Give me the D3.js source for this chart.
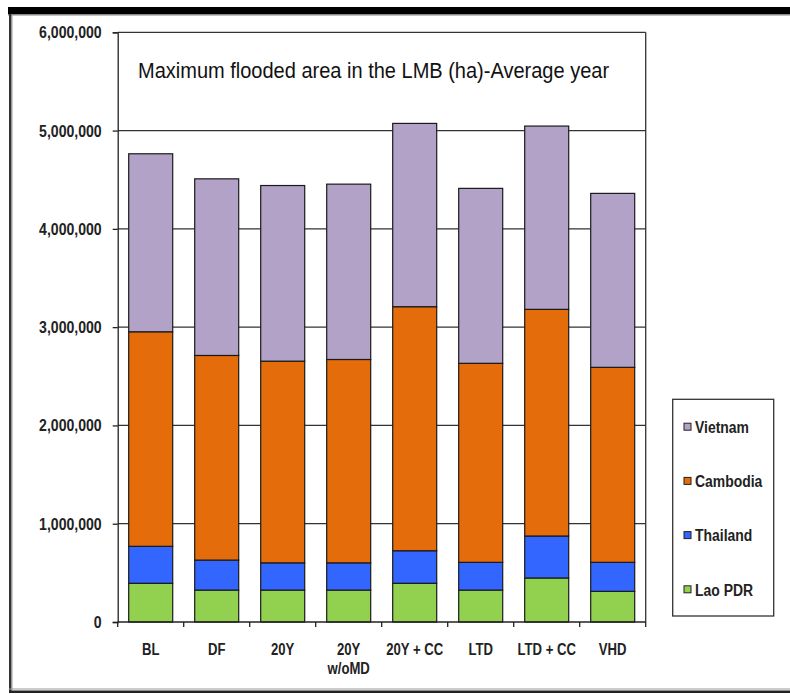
<!DOCTYPE html>
<html>
<head>
<meta charset="utf-8">
<script src="https://cdn.jsdelivr.net/npm/d3@7"></script>
<style>
  html, body { margin: 0; padding: 0; background: #fff; }
  svg { display: block; }
  .narrow { font-family: "Liberation Sans", Arial, sans-serif; font-weight: bold; }
</style>
</head>
<body>
<svg id="chart" width="790" height="694"></svg>
<script>
// Scenarios along the x axis (second line of a label after "\n")
const scenarios = ["BL", "DF", "20Y", "20Y\nw/oMD", "20Y + CC", "LTD", "LTD + CC", "VHD"];

// Maximum flooded area per country, hectares
const laoPDR   = [394000, 325000, 325000, 325000, 394000, 325000, 448000, 312000];
const thailand = [376000, 305000, 277000, 277000, 331000, 282000, 427000, 295000];
const cambodia = [2183000, 2082000, 2052000, 2069000, 2483000, 2025000, 2306000, 1984000];
const vietnam  = [1811000, 1797000, 1787000, 1784000, 1865000, 1780000, 1865000, 1770000];

const seriesNames = ["Lao PDR", "Thailand", "Cambodia", "Vietnam"];
const seriesColors = ["#92D050", "#3366FF", "#E46C0A", "#B3A2C7"];
const yTicks = [0, 1000000, 2000000, 3000000, 4000000, 5000000, 6000000];

const titleText = "Maximum flooded area in the LMB (ha)-Average year";

const rows = scenarios.map((s, i) => ({
  scenario: s,
  "Lao PDR": laoPDR[i],
  "Thailand": thailand[i],
  "Cambodia": cambodia[i],
  "Vietnam": vietnam[i]
}));

const svg = d3.select("#chart");

// Outer frame
svg.append("rect").attr("x", 8).attr("y", 7).attr("width", 782).attr("height", 7).attr("fill", "#000");
svg.append("rect").attr("x", 8).attr("y", 14).attr("width", 782).attr("height", 1.5).attr("fill", "#888");
svg.append("rect").attr("x", 9).attr("y", 14).attr("width", 2.5).attr("height", 678).attr("fill", "#333");
svg.append("rect").attr("x", 11.5).attr("y", 14).attr("width", 1).attr("height", 676).attr("fill", "#999");
svg.append("rect").attr("x", 9).attr("y", 688.5).attr("width", 781).attr("height", 1).attr("fill", "#999");
svg.append("rect").attr("x", 9).attr("y", 690.5).attr("width", 781).attr("height", 2.5).attr("fill", "#222");

const plot = { left: 117.7, top: 32.3, right: 645.7, bottom: 622 };

const x = d3.scaleBand()
  .domain(scenarios)
  .range([plot.left, plot.right])
  .paddingInner(1 / 3)
  .paddingOuter(1 / 6);

const y = d3.scaleLinear()
  .domain([0, 6000000])
  .range([plot.bottom, plot.top]);

const color = d3.scaleOrdinal().domain(seriesNames).range(seriesColors);

// Places a horizontally condensed text label at (px, py)
function narrowText(sel, px, py, sx) {
  return sel.attr("x", 0).attr("y", 0)
    .attr("transform", `translate(${px},${py}) scale(${sx},1)`);
}

// Gridlines
svg.append("g")
  .selectAll("line")
  .data(yTicks.slice(1))
  .join("line")
  .attr("x1", plot.left).attr("x2", plot.right)
  .attr("y1", d => y(d)).attr("y2", d => y(d))
  .attr("stroke", "#333").attr("stroke-width", 1.3);

// Right border of the plot area
svg.append("line")
  .attr("x1", plot.right).attr("x2", plot.right)
  .attr("y1", plot.top).attr("y2", plot.bottom)
  .attr("stroke", "#333").attr("stroke-width", 1.3);

// Stacked bars
const stacked = d3.stack().keys(seriesNames)(rows);

svg.append("g")
  .selectAll("g")
  .data(stacked)
  .join("g")
  .attr("fill", d => color(d.key))
  .selectAll("rect")
  .data(d => d)
  .join("rect")
  .attr("x", d => x(d.data.scenario))
  .attr("width", x.bandwidth())
  .attr("y", d => y(d[1]))
  .attr("height", d => y(d[0]) - y(d[1]))
  .attr("stroke", "#1a1a1a")
  .attr("stroke-width", 1.2);

// Y axis
const yAxis = svg.append("g")
  .attr("transform", `translate(${plot.left},0)`)
  .call(d3.axisLeft(y).tickValues(yTicks).tickFormat(d3.format(",")).tickSize(5).tickPadding(10));
yAxis.select(".domain").attr("stroke", "#222").attr("stroke-width", 1.3);
yAxis.selectAll(".tick line").attr("stroke", "#222").attr("stroke-width", 1.3);
yAxis.selectAll("text")
  .attr("class", "narrow")
  .attr("font-size", 16)
  .attr("fill", "#222")
  .attr("dy", null)
  .each(function () { narrowText(d3.select(this), -16, 5.5, 0.88); });

// X axis: baseline with ticks at category boundaries
const xg = svg.append("g");
xg.append("line")
  .attr("x1", plot.left).attr("x2", plot.right)
  .attr("y1", plot.bottom).attr("y2", plot.bottom)
  .attr("stroke", "#222").attr("stroke-width", 1.3);
const step = x.step();
xg.selectAll("line.tk")
  .data(d3.range(scenarios.length + 1))
  .join("line")
  .attr("class", "tk")
  .attr("x1", i => plot.left + i * step).attr("x2", i => plot.left + i * step)
  .attr("y1", plot.bottom).attr("y2", plot.bottom + 5)
  .attr("stroke", "#222").attr("stroke-width", 1.3);

const xLines = scenarios.flatMap(s => s.split("\n").map((t, j) => ({ s, t, j })));
xg.selectAll("text")
  .data(xLines)
  .join("text")
  .attr("class", "narrow")
  .attr("font-size", 16)
  .attr("fill", "#222")
  .attr("text-anchor", "middle")
  .text(d => d.t)
  .each(function (d) {
    narrowText(d3.select(this), x(d.s) + x.bandwidth() / 2, 655 + d.j * 19, 0.82);
  });

// Title
narrowText(
  svg.append("text")
    .attr("font-family", "Liberation Sans, Arial, sans-serif")
    .attr("font-size", 22)
    .attr("fill", "#111")
    .text(titleText),
  138, 77.5, 0.91);

// Legend
const legend = svg.append("g");
legend.append("rect")
  .attr("x", 672.7).attr("y", 399.3)
  .attr("width", 101).attr("height", 216.7)
  .attr("fill", "#fff").attr("stroke", "#333").attr("stroke-width", 1.3);

const legendOrder = seriesNames.slice().reverse();
const li = legend.selectAll("g.item")
  .data(legendOrder)
  .join("g")
  .attr("class", "item")
  .attr("transform", (d, i) => `translate(684,${426.7 + i * 54.2})`);
li.append("rect")
  .attr("x", 0).attr("y", -3.5)
  .attr("width", 7).attr("height", 7)
  .attr("fill", d => color(d))
  .attr("stroke", "#222").attr("stroke-width", 1);
li.append("text")
  .attr("class", "narrow")
  .attr("font-size", 17)
  .attr("fill", "#222")
  .text(d => d)
  .each(function () { narrowText(d3.select(this), 11, 6.2, 0.82); });
</script>
</body>
</html>
